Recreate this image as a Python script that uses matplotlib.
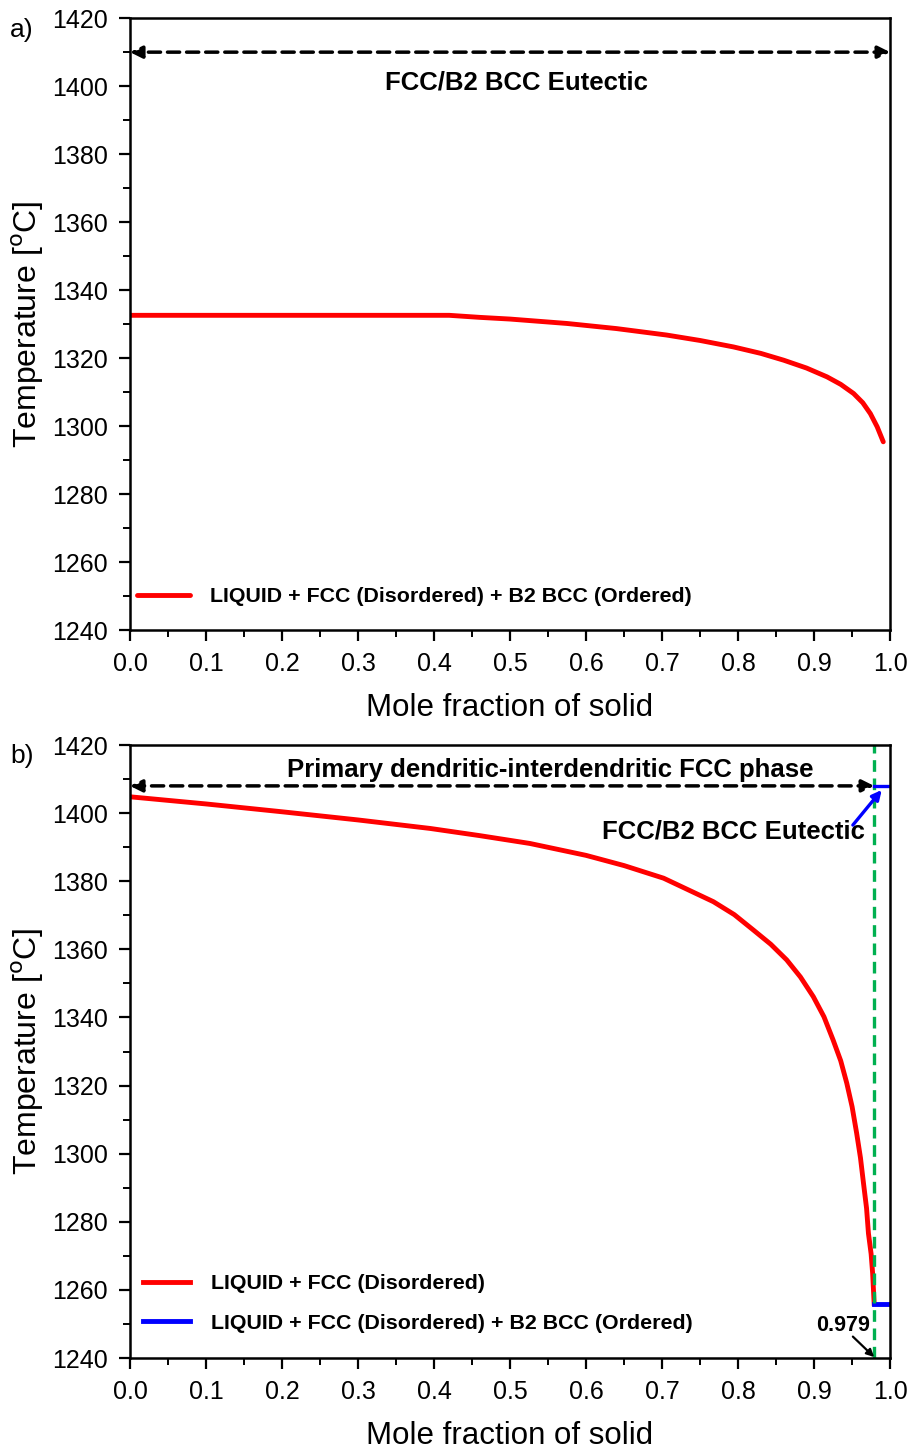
import matplotlib
matplotlib.use("Agg")
import matplotlib.pyplot as plt
from matplotlib.ticker import MultipleLocator
import numpy as np

plt.rcParams['font.family'] = ['Liberation Sans', 'DejaVu Sans']

# Panel a: eutectic solidification path
fs_a = [0.0, 0.1, 0.2, 0.3, 0.42, 0.46, 0.5, 0.575, 0.64, 0.706, 0.75, 0.794, 0.83,
        0.86, 0.89, 0.917, 0.935, 0.952, 0.964, 0.974, 0.983, 0.991]
T_a = [1332.6, 1332.6, 1332.6, 1332.6, 1332.6, 1332.0, 1331.5, 1330.2, 1328.7, 1326.8,
       1325.2, 1323.3, 1321.4, 1319.4, 1317.1, 1314.5, 1312.3, 1309.6, 1306.9, 1303.7,
       1299.8, 1295.4]

# Panel b: primary FCC solidification followed by eutectic
fs_b = [0.0, 0.1, 0.2, 0.3, 0.395, 0.46, 0.526, 0.6, 0.65, 0.702, 0.7675, 0.795, 0.82,
        0.843, 0.864, 0.882, 0.899, 0.913, 0.925, 0.935, 0.943, 0.95, 0.956, 0.961,
        0.965, 0.969, 0.9715, 0.975, 0.977, 0.979]
T_b = [1404.8, 1402.7, 1400.4, 1398.0, 1395.5, 1393.4, 1391.1, 1387.6, 1384.6, 1380.9,
       1374.0, 1370.2, 1365.7, 1361.5, 1356.9, 1351.9, 1346.1, 1340.2, 1333.4, 1327.3,
       1320.7, 1313.8, 1306.0, 1298.8, 1291.3, 1284.0, 1276.6, 1270.6, 1264.9, 1256.0]
fs_eut = [0.979, 1.0]
T_eut = [1256.0, 1256.0]
fs_start = 0.979

label_a = "LIQUID + FCC (Disordered) + B2 BCC (Ordered)"
label_b1 = "LIQUID + FCC (Disordered)"
label_b2 = "LIQUID + FCC (Disordered) + B2 BCC (Ordered)"

xticks = np.round(np.arange(0, 1.01, 0.1), 1)

fig = plt.figure(figsize=(9.12, 14.52), dpi=100)
ax1 = fig.add_axes([0.1425, 0.566, 0.8335, 0.4215])
ax2 = fig.add_axes([0.1425, 0.0647, 0.8335, 0.4222])


def style_axes(ax):
    ax.set_xlim(0, 1.0)
    ax.set_ylim(1240, 1420)
    ax.set_xticks(xticks)
    ax.set_xticklabels([f"{v:.1f}" for v in xticks])
    ax.xaxis.set_minor_locator(MultipleLocator(0.05))
    ax.yaxis.set_major_locator(MultipleLocator(20))
    ax.yaxis.set_minor_locator(MultipleLocator(10))
    ax.tick_params(which='major', direction='out', length=8, width=1.6, labelsize=18,
                   pad=8, top=False, right=False)
    ax.tick_params(which='minor', direction='out', length=5, width=1.4, top=False, right=False)
    for s in ax.spines.values():
        s.set_linewidth(1.8)
    ax.set_xlabel("Mole fraction of solid", fontsize=22.5, labelpad=12)
    ax.set_ylabel("Temperature [$^{\\mathrm{o}}$C]", fontsize=23, labelpad=4)


style_axes(ax1)
style_axes(ax2)

dash_arrow = dict(arrowstyle='<|-|>', color='black', lw=2.5, linestyle=(0, (3.5, 2)),
                  mutation_scale=18, shrinkA=0, shrinkB=0)

# ---- panel a ----
ax1.plot(fs_a, T_a, color='#ff0000', lw=3.5, solid_capstyle='round', label=label_a)
ax1.annotate("", xy=(0.0, 1410), xytext=(1.0, 1410), arrowprops=dash_arrow)
ax1.text(0.509, 1401, "FCC/B2 BCC Eutectic", fontsize=18.5, fontweight='bold',
         ha='center', va='center')
ax1.legend(loc='center left', bbox_to_anchor=(0.009, 0.055), frameon=False,
           prop={'size': 15.4, 'weight': 'bold'}, handlelength=2.5, handletextpad=0.93,
           borderpad=0, borderaxespad=0)
fig.text(0.024, 0.979, "a)", fontsize=19, ha='center', va='center')

# ---- panel b ----
ax2.plot(fs_b, T_b, color='#ff0000', lw=3.5, label=label_b1)
ax2.plot(fs_eut, T_eut, color='#0000ff', lw=3.5, label=label_b2)
ax2.axvline(fs_start, color='#00b050', lw=2.4, linestyle=(0, (3.5, 2)))
ax2.annotate("", xy=(0.0, 1408), xytext=(fs_start, 1408), arrowprops=dash_arrow)
ax2.plot([fs_start, 1.0], [1408, 1408], color='#0000ff', lw=2.4)
ax2.text(0.553, 1412.7, "Primary dendritic-interdendritic FCC phase", fontsize=18.5,
         fontweight='bold', ha='center', va='center')
ax2.text(0.967, 1394.5, "FCC/B2 BCC Eutectic", fontsize=18.5, fontweight='bold',
         ha='right', va='center')
ax2.annotate("", xy=(0.989, 1406.8), xytext=(0.951, 1396.5),
             arrowprops=dict(arrowstyle='-|>', color='#0000ff', lw=2.4, mutation_scale=14,
                             shrinkA=0, shrinkB=0))
ax2.text(0.938, 1249.6, f"{fs_start:.3f}", fontsize=15.5, fontweight='bold',
         ha='center', va='center')
ax2.annotate("", xy=(fs_start, 1240.3), xytext=(0.951, 1246.3),
             arrowprops=dict(arrowstyle='-|>', color='black', lw=1.6, mutation_scale=11,
                             shrinkA=0, shrinkB=0))
ax2.legend(loc='center left', bbox_to_anchor=(0.017, 0.089), frameon=False,
           prop={'size': 15.4, 'weight': 'bold'}, handlelength=2.2, handletextpad=1.0,
           borderpad=0, borderaxespad=0, labelspacing=0.95)
fig.text(0.024, 0.479, "b)", fontsize=19, ha='center', va='center')

fig.savefig("out.png", dpi=100)
